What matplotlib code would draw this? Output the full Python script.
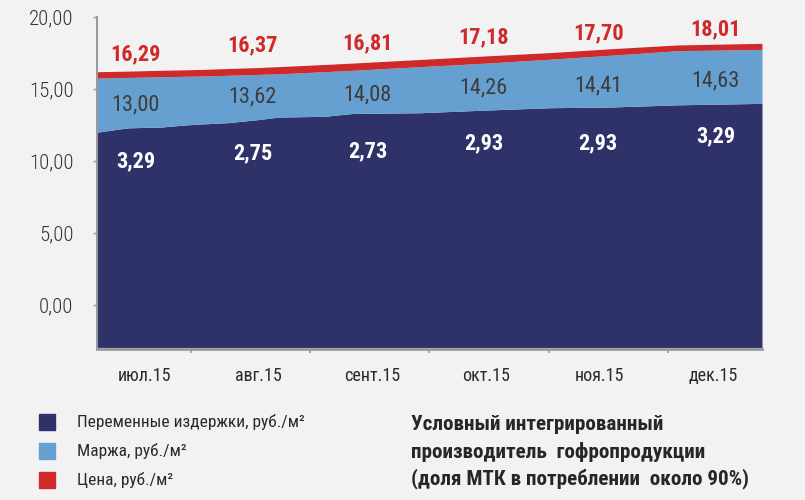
import numpy as np
import matplotlib.pyplot as plt
import matplotlib.font_manager as fm

# данные
months = ['июл.15', 'авг.15', 'сент.15', 'окт.15', 'ноя.15', 'дек.15']
price_labels = ['16,29', '16,37', '16,81', '17,18', '17,70', '18,01']
margin_labels = ['13,00', '13,62', '14,08', '14,26', '14,41', '14,63']
cost_labels = ['3,29', '2,75', '2,73', '2,93', '2,93', '3,29']

# кривые слоёв (в единицах месяца)
t = [-0.42, -0.15, 0.15, 0.35, 0.50, 0.73, 1.03, 1.17, 1.58, 1.83, 2.42, 3.01, 3.57, 4.11, 4.69, 5.43]
costs = [12.0, 12.3, 12.36, 12.5, 12.57, 12.66, 12.9, 13.05, 13.1, 13.3, 13.35, 13.54, 13.7, 13.75, 13.9, 14.0]
margin_top = [15.76, 15.8, 15.85, 15.88, 15.9, 15.95, 16.02, 16.05, 16.2, 16.3, 16.55, 16.8, 17.07, 17.35, 17.66, 17.75]
price_top = [16.2, 16.24, 16.3, 16.33, 16.36, 16.42, 16.5, 16.55, 16.7, 16.8, 17.05, 17.3, 17.53, 17.8, 18.06, 18.17]

C_DARK = '#2f3269'
C_LIGHT = '#65a0d1'
C_RED = '#d0292a'
BG = '#f2f2f2'

# узкий шрифт, если есть
avail = {f.name for f in fm.fontManager.ttflist}
cands = ['Roboto Condensed', 'PT Sans Narrow', 'Fira Sans Condensed', 'IBM Plex Sans Condensed',
         'Sofia Sans Condensed', 'Open Sans Condensed', 'Saira SemiCondensed']
narrow = [c for c in cands if c in avail][:1]
plt.rcParams['font.family'] = narrow + ['DejaVu Sans']

fig = plt.figure(figsize=(8.05, 5.0), dpi=100, facecolor=BG)
ax = fig.add_axes([97 / 805, 1 - 349 / 500, (762 - 97) / 805, (349 - 17) / 500])
ax.set_facecolor(BG)

t = np.array(t)
costs = np.array(costs)
margin = np.array(margin_top) - costs
price = np.array(price_top) - np.array(margin_top)
base = -2.95

ax.fill_between(t, base, costs, color=C_DARK, lw=0)
ax.fill_between(t, costs, costs + margin, color=C_LIGHT, lw=0)
ax.fill_between(t, costs + margin, costs + margin + price, color=C_RED, lw=0)

ax.set_xlim(-0.42, 5.43)
ax.set_ylim(-3.06, 20)

# подписи значений
x = np.arange(len(months))
price_y = [17.43, 18.05, 18.2, 18.6, 18.9, 19.15]
margin_y = [13.9, 14.45, 14.58, 15.05, 15.2, 15.55]
cost_y = [10.0, 10.5, 10.7, 11.2, 11.25, 11.7]
dx = [-0.08, -0.05, -0.04, -0.02, -0.01, 0.02]
for i in range(len(months)):
    ax.text(x[i] + dx[i], price_y[i], price_labels[i], color=C_RED, fontsize=16,
            fontweight='bold', ha='center', va='center')
    ax.text(x[i] + dx[i], margin_y[i], margin_labels[i], color='#3c3c3c', fontsize=16,
            ha='center', va='center')
    ax.text(x[i] + dx[i], cost_y[i], cost_labels[i], color='white', fontsize=16,
            fontweight='bold', ha='center', va='center')

# оси
for s in ['top', 'right']:
    ax.spines[s].set_visible(False)
ax.spines['left'].set_color('#9a9a9a')
ax.spines['left'].set_linewidth(1.5)
ax.spines['bottom'].set_color('#9a9a9a')
ax.spines['bottom'].set_linewidth(2)

ax.set_yticks([0, 5, 10, 15, 20])
ax.set_yticklabels(['0,00', '5,00', '10,00', '15,00', '20,00'])
ax.tick_params(axis='y', direction='out', length=3, width=1, color='#9a9a9a',
               labelsize=15, labelcolor='#333333', pad=14)
for lab in ax.get_yticklabels():
    lab.set_fontweight('light')

ax.set_xticks(x)
ax.set_xticklabels(months)
ax.tick_params(axis='x', which='major', length=0, labelsize=13, labelcolor='#2a2a2a', pad=13)
ax.set_xticks([0.405, 1.45, 2.5, 3.556, 4.6], minor=True)
ax.tick_params(axis='x', which='minor', direction='out', length=3, width=1.2, color='#9a9a9a')

# легенда
legend_items = [('Переменные издержки, руб./м²', C_DARK),
                ('Маржа, руб./м²', C_LIGHT),
                ('Цена, руб./м²', C_RED)]
ys = [422, 451, 480]
for (lab, col), yp in zip(legend_items, ys):
    fig.patches.append(plt.Rectangle((39 / 805, 1 - (yp + 8) / 500), 16 / 805, 16 / 500,
                                     transform=fig.transFigure, color=col, figure=fig))
    fig.text(77 / 805, 1 - yp / 500, lab, fontsize=12.5, color='#2a2a2a', va='center', ha='left')

note = ['Условный интегрированный',
        'производитель  гофропродукции',
        '(доля МТК в потреблении  около 90%)']
for line, yp in zip(note, [425, 452, 479]):
    fig.text(411 / 805, 1 - yp / 500, line, fontsize=15.2, fontweight='bold',
             color='#262626', va='center', ha='left')

fig.savefig('out.png', dpi=100, facecolor=BG)
